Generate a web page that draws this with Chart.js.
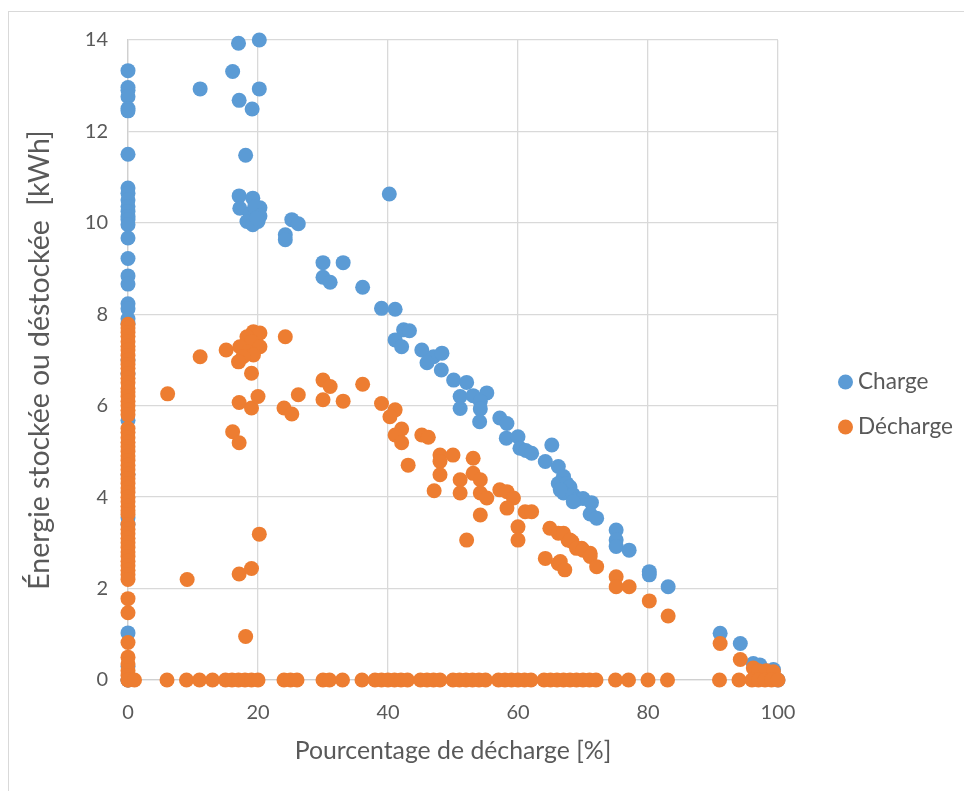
<!DOCTYPE html>
<html>
<head>
<meta charset="utf-8">
<script src="https://cdn.jsdelivr.net/npm/chart.js@4.4.1/dist/chart.umd.min.js"></script>
<style>
html,body{margin:0;padding:0;background:#fff;}
#frame{position:absolute;left:8px;top:11px;width:956px;height:780px;border-top:1.5px solid #D9D9D9;border-left:1.5px solid #D9D9D9;box-sizing:border-box;}
#c{position:absolute;left:0;top:0;}
</style>
</head>
<body>
<div id="frame"></div>
<canvas id="c" width="964" height="791"></canvas>
<script>
// ---------------- data ----------------
const seriesNames = ['Charge', 'Décharge'];
const xTitle = 'Pourcentage de décharge [%]';
const yTitle = 'Énergie stockée ou déstockée  [kWh]';
const xTickStep = 20, xMin = 0, xMax = 100;
const yTickStep = 2, yMin = 0, yMax = 14;

// Charge: energies recorded at 0 % discharge
const chargeAtZeroPct = [13.33, 12.96, 12.9, 12.76, 12.5, 12.45, 11.5, 10.76, 10.65, 10.5, 10.36, 10.25, 10.14, 10.07, 9.96,
  9.67, 9.22, 8.84, 8.66, 8.23, 8.12, 7.9, 7.8, 7.0, 6.7, 5.68, 4.5, 3.55, 3.4, 1.03, 0.3, 0];
// Charge: other points (percentage, energy)
const chargePct = [17.0, 20.2, 16.1, 11.1, 20.2, 17.1, 19.1, 18.1, 17.1, 19.2, 17.2, 20.3, 18.8, 19.5, 18.3, 20.0, 19.2, 20.3, 19.8,
  25.2, 26.2, 24.2, 24.2, 30, 33.1, 30, 31.1, 36.1, 40.2, 39.0, 41.1, 42.4, 43.3, 41.1, 42.1, 45.2, 47, 48.3, 46, 48.2,
  50.1, 52.1, 51.1, 53.1, 55.2, 51.1, 54.2, 54.2, 54.1, 57.2, 58.3, 58.2, 60, 60.3, 61.2, 62.1, 65.2, 64.2, 66.2, 67,
  66.2, 67.5, 68, 67, 66.5, 68.5, 69, 70, 71.3, 68.5, 71.1, 72.1, 75.1, 75.1, 75.1, 77.1, 80.2, 80.2, 83.1,
  91.1, 94.2, 96.2, 97.2, 98.2, 99.3, 100, 0];
const chargeKWh = [13.93, 14.0, 13.31, 12.93, 12.93, 12.68, 12.49, 11.48, 10.59, 10.54, 10.32, 10.33, 10.2, 10.35, 10.03, 10.03, 9.96, 10.15, 10.1,
  10.07, 9.98, 9.74, 9.63, 9.13, 9.13, 8.81, 8.70, 8.59, 10.63, 8.13, 8.11, 7.66, 7.64, 7.44, 7.29, 7.22, 7.07, 7.15, 6.94, 6.78,
  6.56, 6.51, 6.2, 6.22, 6.28, 5.94, 6.09, 5.93, 5.65, 5.73, 5.61, 5.29, 5.32, 5.07, 5.02, 4.96, 5.14, 4.78, 4.67, 4.45,
  4.3, 4.3, 4.22, 4.09, 4.16, 4.05, 3.95, 3.97, 3.88, 3.9, 3.63, 3.54, 3.28, 3.06, 2.92, 2.84, 2.37, 2.3, 2.04,
  1.02, 0.8, 0.36, 0.33, 0.2, 0.23, 0, 0];

// Décharge: energies recorded at 0 % discharge
const dechargeAtZeroPct = [7.78, 7.7, 7.6, 7.52, 7.4, 7.3, 7.22, 7.1, 7.0, 6.9, 6.82, 6.7, 6.6, 6.5, 6.38, 6.3, 6.2, 6.1, 6.0, 5.9, 5.8,
  5.5, 5.42, 5.3, 5.2, 5.1, 5.0, 4.9, 4.8, 4.7, 4.6, 4.5, 4.4, 4.3, 4.2, 4.1, 4.0, 3.9, 3.8, 3.7, 3.62,
  3.4, 3.3, 3.2, 3.1, 3.0, 2.9, 2.8, 2.7, 2.6, 2.5, 2.4, 2.3, 2.2, 1.78, 1.47, 0.82, 0.5, 0.35, 0.2, 0.1, 0];
// Décharge: other points with energy (percentage, energy)
const dechargePct = [24.2, 11.1, 15.1, 19.3, 20.3, 18.3, 19, 20.3, 17.2, 18.5, 19.3, 17.7, 17, 19, 6.1, 17.1, 19, 20, 24, 25.2, 26.2,
  16.1, 17.1, 9.1, 17.1, 19, 20.2, 18.1,
  30, 31.1, 36.1, 30, 33.1, 39, 41.1, 40.3, 42.1, 41.1, 42.1, 45.2, 46.2, 43.1, 48, 50, 48, 53.1, 48, 51.1, 51.1, 53.1,
  54.2, 54.2, 55.2, 47.1, 57.2, 58.3, 59.3, 58.3, 54.2, 61.1, 62.1, 60, 60, 52.1, 64.9, 66.2, 67.7, 68.3, 69.8, 71.1,
  64.2, 66.2, 67, 68, 69, 70, 71.1, 72.1, 66.5, 67.2, 75.1, 75.1, 77.1, 80.2, 83.1, 91.1, 94.2, 96.2, 97, 98.2, 99.3];
const dechargeKWh = [7.51, 7.07, 7.22, 7.62, 7.59, 7.51, 7.4, 7.29, 7.29, 7.18, 7.11, 7.07, 6.96, 6.71, 6.26, 6.07, 5.95, 6.2, 5.95, 5.82, 6.24,
  5.43, 5.19, 2.2, 2.32, 2.44, 3.19, 0.95,
  6.56, 6.42, 6.47, 6.13, 6.1, 6.05, 5.91, 5.76, 5.49, 5.36, 5.19, 5.36, 5.31, 4.7, 4.92, 4.92, 4.78, 4.85, 4.49, 4.38, 4.09, 4.52,
  4.38, 4.09, 3.98, 4.14, 4.16, 4.12, 3.98, 3.76, 3.61, 3.68, 3.68, 3.35, 3.06, 3.06, 3.32, 3.21, 3.06, 3.03, 2.88, 2.77,
  2.66, 2.55, 3.21, 3.06, 2.88, 2.84, 2.7, 2.48, 2.59, 2.41, 2.26, 2.04, 2.04, 1.73, 1.4, 0.8, 0.45, 0.26, 0.2, 0.2, 0.18];
// Décharge: percentages where the energy was 0
const dechargeZeroEnergyPct = [0, 1, 6, 9, 11, 13, 15, 16, 17, 18, 19, 20, 24, 25, 26, 30, 31, 33, 36, 38, 39, 40, 41, 42, 43,
  45, 46, 47, 48, 50, 51, 52, 53, 54, 55, 57, 58, 59, 60, 61, 62, 64, 65, 66, 67, 68, 69, 70, 71, 72,
  75, 77, 80, 83, 91, 94, 96, 97, 98, 99, 100];

// ---------------- build datasets ----------------
const chargeData = chargeAtZeroPct.map(v => ({x: 0, y: v}))
  .concat(chargePct.map((p, i) => ({x: p, y: chargeKWh[i]})));
const dechargeData = dechargeAtZeroPct.map(v => ({x: 0, y: v}))
  .concat(dechargePct.map((p, i) => ({x: p, y: dechargeKWh[i]})))
  .concat(dechargeZeroEnergyPct.map(p => ({x: p, y: 0})));

const BLUE = '#5B9BD5', ORANGE = '#ED7D31';
const TEXT = '#595959', GRID = '#D9D9D9', AXIS = '#D0D0D0';
const FONT = 'Lato, "Open Sans", sans-serif';
const LEGEND_FONT_SIZE = 22.6;
const LEGEND_W = 186, LEGEND_ITEM_X = 844.3, LEGEND_FIRST_Y = 382;

const legendPlacer = {
  id: 'legendPlacer',
  beforeLayout(chart) {
    const lg = chart.legend;
    if (lg && !lg._fitWrapped) {
      const fit = lg.fit;
      lg.fit = function () { fit.call(this); this.width = LEGEND_W; };
      lg._fitWrapped = true;
    }
  },
  afterLayout(chart) {
    const lg = chart.legend;
    if (!lg) return;
    const pad = lg.options.labels.padding;
    const dx = LEGEND_ITEM_X - pad - lg.left;
    lg.left += dx; lg.right += dx;
    const colH = lg.columnSizes && lg.columnSizes[0] ? lg.columnSizes[0].height : 0;
    const cur = (lg.top + pad + lg.bottom - colH) / 2;
    const dy = (LEGEND_FIRST_Y - LEGEND_FONT_SIZE / 2) - cur;
    lg.top += dy; lg.bottom += dy;
  }
};

const pointStyle = {pointRadius: 7.5, pointHoverRadius: 7.5, pointBorderWidth: 0, pointHoverBorderWidth: 0, clip: false};

new Chart(document.getElementById('c').getContext('2d'), {
  type: 'scatter',
  data: {
    datasets: [
      Object.assign({label: seriesNames[0], data: chargeData, backgroundColor: BLUE, borderColor: BLUE, order: 1}, pointStyle),
      Object.assign({label: seriesNames[1], data: dechargeData, backgroundColor: ORANGE, borderColor: ORANGE, order: 0}, pointStyle)
    ]
  },
  options: {
    responsive: false,
    animation: false,
    devicePixelRatio: 1,
    events: [],
    layout: {padding: {top: 40, left: 23, right: 0, bottom: 25}},
    scales: {
      x: {
        type: 'linear', min: xMin, max: xMax,
        ticks: {stepSize: xTickStep, color: TEXT, font: {family: FONT, size: 20}, padding: 21},
        grid: {color: GRID, lineWidth: 1.3, drawTicks: false},
        border: {color: AXIS, width: 1.3},
        title: {display: true, text: xTitle, color: TEXT, font: {family: FONT, size: 24.8}, padding: 0},
        afterFit(s) { s.height = 86; }
      },
      y: {
        type: 'linear', min: yMin, max: yMax,
        ticks: {stepSize: yTickStep, color: TEXT, font: {family: FONT, size: 20}, padding: 20},
        grid: {color: GRID, lineWidth: 1.3, drawTicks: false},
        border: {color: AXIS, width: 1.3},
        title: {display: true, text: yTitle, color: TEXT, font: {family: FONT, size: 28.4}, padding: 0},
        afterFit(s) { s.width = 105; }
      }
    },
    plugins: {
      legend: {
        position: 'right',
        labels: {
          usePointStyle: true, pointStyle: 'circle', boxWidth: 2.4, boxHeight: 10.6, padding: 45 - LEGEND_FONT_SIZE,
          color: TEXT, font: {family: FONT, size: LEGEND_FONT_SIZE},
          sort: (a, b) => a.datasetIndex - b.datasetIndex
        }
      },
      tooltip: {enabled: false}
    }
  },
  plugins: [legendPlacer]
});
</script>
</body>
</html>
